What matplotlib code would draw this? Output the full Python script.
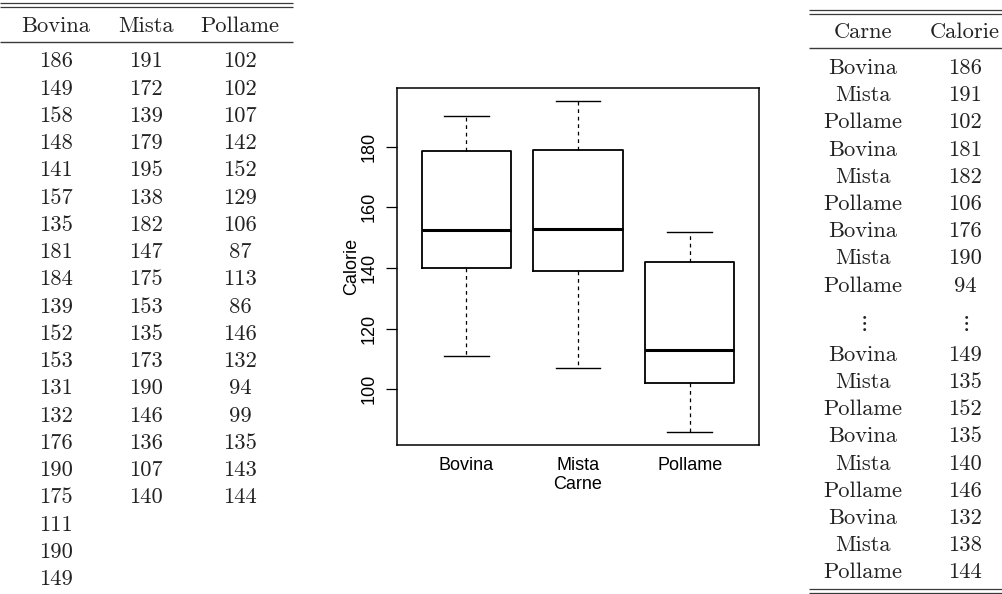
import numpy as np
import matplotlib
matplotlib.use("Agg")
import matplotlib.pyplot as plt

bovina = [186, 149, 158, 148, 141, 157, 135, 181, 184, 139, 152, 153, 131, 132, 176, 190, 175, 111, 190, 149]
mista = [191, 172, 139, 179, 195, 138, 182, 147, 175, 153, 135, 173, 190, 146, 136, 107, 140]
pollame = [102, 102, 107, 142, 152, 129, 106, 87, 113, 86, 146, 132, 94, 99, 135, 143, 144]
groups = ["Bovina", "Mista", "Pollame"]

# long-format excerpt shown on the right
long_carne_top = ["Bovina", "Mista", "Pollame", "Bovina", "Mista", "Pollame", "Bovina", "Mista", "Pollame"]
long_cal_top = [186, 191, 102, 181, 182, 106, 176, 190, 94]
long_carne_bot = ["Bovina", "Mista", "Pollame", "Bovina", "Mista", "Pollame", "Bovina", "Mista", "Pollame"]
long_cal_bot = [149, 135, 152, 135, 140, 146, 132, 138, 144]

plt.rcParams["mathtext.fontset"] = "cm"
TFONT = "cmr10"
TSIZE = 16.2
TCOL = "#222222"
RULE = "#3a3a3a"


def fivenum_stats(x, label):
    # R-style hinges, whiskers at 1.5*IQR
    x = np.sort(np.asarray(x, dtype=float))
    n = len(x)
    n4 = np.floor((n + 3) / 2) / 2
    d = np.array([1, n4, (n + 1) / 2, n + 1 - n4, n]) - 1
    lo = 0.5 * (x[np.floor(d).astype(int)] + x[np.ceil(d).astype(int)])
    q1, med, q3 = lo[1], lo[2], lo[3]
    iqr = q3 - q1
    wlo = x[x >= q1 - 1.5 * iqr].min()
    whi = x[x <= q3 + 1.5 * iqr].max()
    return dict(med=med, q1=q1, q3=q3, whislo=wlo, whishi=whi, fliers=[], label=label)


def cell(ax, x, y, s):
    ax.text(x, y, s, ha="center", va="center", family=TFONT, size=TSIZE, color=TCOL)


fig = plt.figure(figsize=(10.02, 5.94), dpi=100)

# ---- tables on a pixel-coordinate overlay
tab = fig.add_axes([0, 0, 1, 1])
tab.set_xlim(0, 1002)
tab.set_ylim(594, 0)
tab.axis("off")

# left table
left_x = [55.7, 145.7, 240]
tab.hlines([3.3, 6.7], 0, 293, color=RULE, lw=0.9)
tab.hlines(41.7, 0, 293, color=RULE, lw=1.0)
for cx, name, vals in zip(left_x, groups, [bovina, mista, pollame]):
    cell(tab, cx, 26.7, name)
    for i, v in enumerate(vals):
        cell(tab, cx, 61.7 + i * 27.25, str(v))

# right table
rx = [862.7, 965]
tab.hlines([10, 14], 809, 1002, color=RULE, lw=0.9)
tab.hlines(47.7, 809, 1002, color=RULE, lw=1.0)
tab.hlines([589, 593], 809, 1002, color=RULE, lw=0.9)
cell(tab, rx[0], 32, "Carne")
cell(tab, rx[1], 32, "Calorie")
for i, (c, v) in enumerate(zip(long_carne_top, long_cal_top)):
    y = 68.3 + i * 27.2
    cell(tab, rx[0], y, c)
    cell(tab, rx[1], y, str(v))
for cx in rx:
    tab.text(cx, 323, r"$\vdots$", ha="center", va="center", size=TSIZE, color=TCOL)
for i, (c, v) in enumerate(zip(long_carne_bot, long_cal_bot)):
    y = 355 + i * 27.2
    cell(tab, rx[0], y, c)
    cell(tab, rx[1], y, str(v))

# ---- boxplot
ax = fig.add_axes([397 / 1002, (594 - 445) / 594, (759 - 397) / 1002, (445 - 88) / 594])
stats = [fivenum_stats(v, g) for v, g in zip([bovina, mista, pollame], groups)]
ax.bxp(stats, positions=[1, 2, 3], widths=0.8, showfliers=False,
       boxprops=dict(color="black", lw=1.3),
       medianprops=dict(color="black", lw=2.2),
       whiskerprops=dict(color="black", lw=0.9, linestyle=(0, (3, 3))),
       capprops=dict(color="black", lw=1.0),
       capwidths=0.4)
ax.set_xlim(0.38, 3.62)
span = 195 - 86
ax.set_ylim(86 - 0.04 * span, 195 + 0.04 * span)
ax.set_yticks([100, 120, 140, 160, 180])
for s in ax.spines.values():
    s.set_linewidth(1.1)

PF = "Liberation Sans"
PS = 13
ax.tick_params(axis="x", length=0, pad=9, labelsize=PS)
ax.tick_params(axis="y", length=8, width=0.9, pad=6, labelsize=PS)
for lab in ax.get_xticklabels() + ax.get_yticklabels():
    lab.set_family(PF)
for lab in ax.get_yticklabels():
    lab.set_rotation(90)
    lab.set_va("center")
ax.set_xlabel("Carne", family=PF, size=PS, labelpad=1)
ax.set_ylabel("Calorie", family=PF, size=PS, labelpad=0)

fig.savefig("out.png", dpi=100)
